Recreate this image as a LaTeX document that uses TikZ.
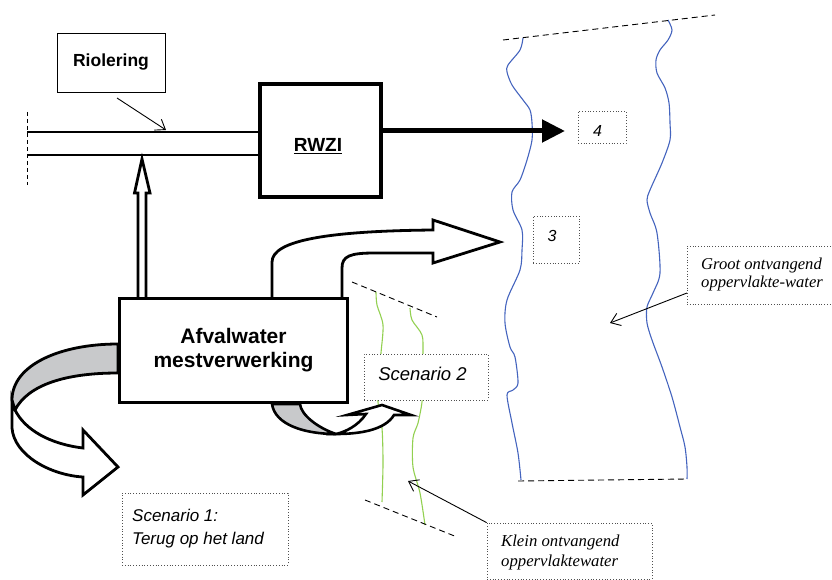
\documentclass[tikz,border=0pt]{standalone}
\usepackage{fontspec}
\setmainfont{Liberation Serif}
\setsansfont{Liberation Sans}
\usetikzlibrary{arrows.meta}
\definecolor{riverblue}{RGB}{68,100,190}
\definecolor{streamgreen}{RGB}{146,208,80}
\definecolor{bandgrey}{RGB}{200,201,203}
\definecolor{dotgrey}{RGB}{80,80,80}
\tikzset{
  plainbox/.style={draw, line width=0.9pt, fill=white, inner sep=0pt},
  dotbox/.style={draw=dotgrey, dotted, line width=0.8pt, fill=white, inner sep=0pt},
  thinarrow/.style={-{Straight Barb[length=9pt,width=13pt]}, line width=0.9pt},
  outlinearrow/.style={draw, line width=2.8pt, fill=white, line join=miter},
  greyband/.style={draw, line width=2.8pt, fill=bandgrey, line join=round},
  river/.style={draw=riverblue, line width=1.1pt},
  stream/.style={draw=streamgreen, line width=1.1pt},
  edgedash/.style={dash pattern=on 6pt off 4pt, line width=0.9pt},
  pipe/.style={line width=2pt},
  itsans/.style={font=\sffamily\itshape\fontsize{17}{23}\selectfont},
  itserif/.style={font=\itshape\fontsize{16.6}{18}\selectfont},
}
\begin{document}
\begin{tikzpicture}[x=1pt,y=-1pt]
\useasboundingbox (0,0) rectangle (832,580);

% ---- large receiving water (river banks)
\draw[river] plot[smooth, tension=0.5] coordinates {(523,38) (520,50) (508,65) (507,72) (512,85) (523,100) (530,110) (532,123) (532,140) (527,160) (520,180) (512,192) (513,210) (522,230) (522,250) (520,270) (507,300) (505,323) (510,347) (515,357) (518,383) (513,390) (507,395) (512,423) (518,453) (521,480)};
\draw[river] plot[smooth, tension=0.5] coordinates {(668,20) (672,30) (668,40) (660,50) (656,60) (657,73) (665,88) (669,103) (670,123) (670,140) (662,163) (650,190) (647,200) (650,213) (657,233) (660,273) (653,293) (647,307) (647,323) (652,340) (662,367) (672,397) (680,427) (685,447) (687,467) (687,479)};
\coordinate (rivTL) at (503,40);
\coordinate (rivTR) at (715,15);
\coordinate (rivBL) at (518,481);
\coordinate (rivBR) at (687,479);
\draw[edgedash] (rivTL) -- (rivTR);
\draw[edgedash] (rivBL) -- (rivBR);

% ---- small receiving water (stream)
\draw[stream] plot[smooth] coordinates {(376,292) (377,305) (383,325) (381,353) (379,380) (378,402) (382,428) (383,463) (382,502)};
\draw[stream] plot[smooth] coordinates {(410,308) (412,320) (422,335) (423,353) (423,380) (422,402) (418,423) (413,438) (413,467) (420,493) (425,525)};
\coordinate (strTL) at (352,282);
\coordinate (strTR) at (437,317);
\coordinate (strBL) at (365,500);
\coordinate (strBR) at (457,537);
\draw[edgedash] (strTL) -- (strTR);
\draw[edgedash] (strBL) -- (strBR);

% ---- sewer pipe
\coordinate (pipeTopL) at (27,132);
\coordinate (pipeTopR) at (258,132);
\coordinate (pipeBotL) at (27,155);
\coordinate (pipeBotR) at (258,155);
\coordinate (pipeEndA) at (27,112);
\coordinate (pipeEndB) at (27,185);
\draw[pipe] (pipeTopL) -- (pipeTopR);
\draw[pipe] (pipeBotL) -- (pipeBotR);
\draw[dash pattern=on 4pt off 3pt, line width=0.9pt] (pipeEndA) -- (pipeEndB);

% ---- Riolering
\node[plainbox, minimum width=108pt, minimum height=59pt, font=\sffamily\bfseries\fontsize{17.5}{20}\selectfont] (riol) at (111,62.5) {Riolering};
\coordinate (riolstart) at (117,98);
\coordinate (riolend) at (166,130);
\draw[thinarrow] (riolstart) -- (riolend);

% ---- RWZI
\node[draw, line width=4pt, fill=white, minimum width=121pt, minimum height=113pt] (rwzi) at (320.5,140.5) {};
\node[font=\sffamily\bfseries\fontsize{19}{22}\selectfont, inner sep=0pt] (rwzitext) at (318,146) {\underline{RWZI}};
\coordinate (rwziout) at (383,131);
\coordinate (fourpt) at (565,131);
\draw[line width=5pt, -{Triangle[length=23pt,width=22pt]}] (rwziout) -- (fourpt);

% ---- numbered boxes
\node[dotbox, minimum width=48pt, minimum height=32pt] (box4) at (602,127) {};
\node[font=\sffamily\itshape\fontsize{16}{18}\selectfont, inner sep=0pt] (lab4) at (597.5,131) {4};
\node[dotbox, minimum width=46pt, minimum height=47pt] (box3) at (556,239.5) {};
\node[font=\sffamily\itshape\fontsize{16}{18}\selectfont, inner sep=0pt] (lab3) at (552,235.5) {3};

% ---- Groot ontvangend oppervlakte-water
\node[dotbox, minimum width=145pt, minimum height=58pt] (groot) at (759.5,275.5) {};
\node[itserif, align=left, anchor=west, inner sep=0pt] (groottext) at (701,274.5) {Groot ontvangend\\oppervlakte-water};
\coordinate (grootstart) at (687,293);
\coordinate (grootend) at (610,323);
\draw[thinarrow] (grootstart) -- (grootend);

% ---- big curved arrow to the surface water
\path[outlinearrow] (272,297) -- (272,262) .. controls (272,240) and (330,231) .. (433,230)
   -- (433,220) -- (500,242) -- (433,263) -- (433,253) -- (375,253)
   .. controls (350,253) and (342,256) .. (342,268) -- (342,297);

% ---- double arrow up to the sewer
\path[outlinearrow] (138,297) -- (138,193) -- (134.5,193) -- (142,159) -- (150,193) -- (146,193) -- (146,297);

% ---- scenario 1 curved arrow (back to the land)
\path[outlinearrow] (12,400) -- (12,428) .. controls (14,455) and (50,475) .. (83,477)
   -- (83,495) -- (118,467) -- (83,430) -- (83,448)
   .. controls (50,444) and (25,430) .. (15,410) -- cycle;
\path[greyband] (118,344) .. controls (60,344) and (12,365) .. (12,400)
   -- (15,410) .. controls (28,385) and (65,373) .. (118,373) -- cycle;

% ---- scenario 2 small curved arrow
\path[outlinearrow, line width=2.6pt] (336,434) .. controls (360,434) and (385,430) .. (394,415)
   -- (411,415) -- (382,405) -- (347,415) -- (366,414)
   .. controls (358,426) and (345,432) .. (336,434) -- cycle;
\path[greyband, line width=2.6pt] (272,404) .. controls (275,425) and (305,434) .. (336,434)
   .. controls (318,428) and (301,415) .. (300,404) -- cycle;

% ---- Afvalwater mestverwerking
\node[draw, line width=3.5pt, fill=white, minimum width=228pt, minimum height=104pt,
      align=center, font=\sffamily\bfseries\fontsize{21}{24}\selectfont] (afval) at (233.5,350.5) {Afvalwater\\mestverwerking};

% ---- scenario boxes
\node[dotbox, minimum width=124pt, minimum height=46pt] (scen2) at (426,377) {};
\node[font=\sffamily\itshape\fontsize{18.5}{22}\selectfont, inner sep=0pt] (scen2text) at (422.5,374) {Scenario 2};
\node[dotbox, minimum width=166pt, minimum height=72pt] (scen1) at (205,529) {};
\node[itsans, align=left, anchor=west, inner sep=0pt] (scen1text) at (132,529) {Scenario 1:\\Terug op het land};

% ---- Klein ontvangend oppervlaktewater
\node[dotbox, minimum width=165pt, minimum height=56pt] (klein) at (569.5,551) {};
\node[font=\itshape\fontsize{16.7}{20}\selectfont, align=left, anchor=west, inner sep=0pt] (kleintext) at (501,552) {Klein ontvangend\\oppervlaktewater};
\coordinate (kleinend) at (408,481);
\draw[thinarrow] (klein.north west) -- (kleinend);
\end{tikzpicture}
\end{document}
